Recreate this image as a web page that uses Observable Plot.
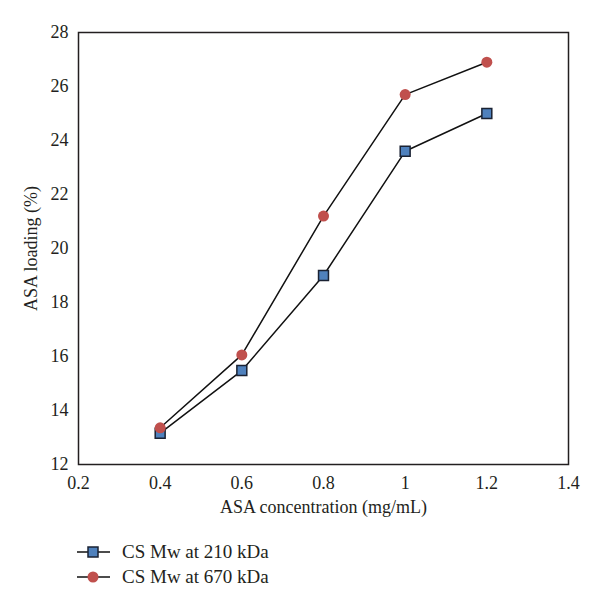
<!DOCTYPE html>
<html>
<head>
<meta charset="utf-8">
<script src="https://cdn.jsdelivr.net/npm/d3@7"></script>
<script src="https://cdn.jsdelivr.net/npm/@observablehq/plot@0.6"></script>
<style>
  body { margin: 0; background: #fff; font-family: "Liberation Serif", serif; }
  #legend { position: relative; height: 81px; }
  .row { position: absolute; left: 76px; display: flex; align-items: center; font-size: 19px; color: #231f20; }
  .row svg { margin-right: 11px; }
</style>
</head>
<body>
<div id="chart"></div>
<div id="legend"></div>
<script>
const concentrations = [0.4, 0.6, 0.8, 1.0, 1.2];
const loading210 = [13.16, 15.48, 19.0, 23.6, 25.0];
const loading670 = [13.36, 16.06, 21.2, 25.7, 26.9];
const xTicks = [0.2, 0.4, 0.6, 0.8, 1, 1.2, 1.4];
const yTicks = [12, 14, 16, 18, 20, 22, 24, 26, 28];
const seriesNames = ["CS Mw at 210 kDa", "CS Mw at 670 kDa"];

const d210 = concentrations.map((x, i) => ({x, y: loading210[i]}));
const d670 = concentrations.map((x, i) => ({x, y: loading670[i]}));

const blue = "#4f81bd", red = "#c0504d";

const chart = Plot.plot({
  width: 600,
  height: 530,
  marginTop: 32,
  marginBottom: 66,
  marginLeft: 78,
  marginRight: 32,
  style: {fontFamily: "Liberation Serif, serif", fontSize: "18px", color: "#231f20", background: "#fff"},
  x: {domain: [0.2, 1.4]},
  y: {domain: [12, 28]},
  marks: [
    Plot.frame({stroke: "#231f20", strokeWidth: 1.5}),
    Plot.axisX({ticks: xTicks, tickSize: 0, tickPadding: 12, tickFormat: d => String(d), fontSize: 18,
      label: "ASA concentration (mg/mL)", labelAnchor: "center", labelArrow: "none", labelOffset: 48}),
    Plot.axisY({ticks: yTicks, tickSize: 0, tickPadding: 10, fontSize: 18,
      label: "ASA loading (%)", labelAnchor: "center", labelArrow: "none", labelOffset: 54}),
    Plot.line(d210, {x: "x", y: "y", stroke: "#111", strokeWidth: 1.5}),
    Plot.dot(d210, {x: "x", y: "y", symbol: "square", r: 5.6, fill: blue, stroke: "#1a2233", strokeWidth: 1.5}),
    Plot.line(d670, {x: "x", y: "y", stroke: "#111", strokeWidth: 1.5}),
    Plot.dot(d670, {x: "x", y: "y", r: 5.5, fill: red, stroke: "none"})
  ]
});
document.getElementById("chart").appendChild(chart);

const legend = document.getElementById("legend");
const items = [
  {name: seriesNames[0], marker: `<rect x="12" y="5" width="10" height="10" fill="${blue}" stroke="#1a2233" stroke-width="1.5"/>`},
  {name: seriesNames[1], marker: `<circle cx="17" cy="10" r="5.5" fill="${red}"/>`}
];
items.forEach((it, i) => {
  const row = document.createElement("div");
  row.className = "row";
  row.style.top = (i === 0 ? 11 : 36) + "px";
  row.innerHTML = `<svg width="35" height="20"><line x1="1" y1="10" x2="34" y2="10" stroke="#111" stroke-width="1.5"/>${it.marker}</svg><span>${it.name}</span>`;
  legend.appendChild(row);
});
</script>
</body>
</html>
